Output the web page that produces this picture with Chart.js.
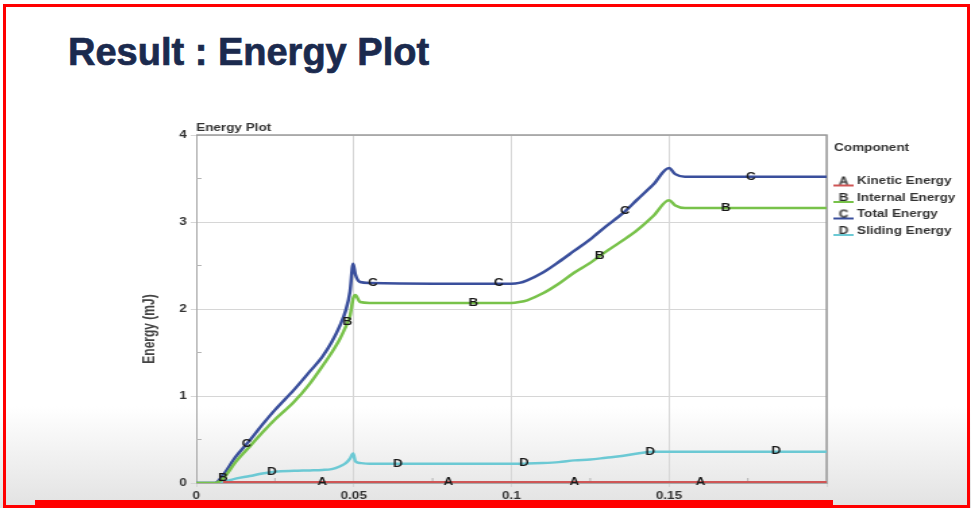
<!DOCTYPE html>
<html>
<head>
<meta charset="utf-8">
<script src="https://cdn.jsdelivr.net/npm/chart.js@4.4.0/dist/chart.umd.min.js"></script>
<style>
html, body { margin: 0; padding: 0; width: 971px; height: 508px; overflow: hidden; background: #fff; }
#slide { position: absolute; left: 0; top: 0; width: 971px; height: 508px;
  background: linear-gradient(to bottom, #fff 0%, #fff 80%, #e2e2e2 100%); }
#title { position: absolute; left: 68px; top: 33px; font: bold 38px "Liberation Sans", Arial, sans-serif;
  line-height: 38px; color: #1b2a4e; white-space: nowrap; -webkit-text-stroke: 0.7px #1b2a4e; }
#wrap { position: absolute; left: 130px; top: 112px; width: 616px; height: 392px;
  transform: scaleX(1.35); transform-origin: 0 0; }
#frame { position: absolute; left: 3px; top: 4px; width: 961px; height: 498px; border: 3px solid #f00; pointer-events: none; }
#bar { position: absolute; left: 35px; top: 500px; width: 798px; height: 5px; background: #f00; }
</style>
</head>
<body>
<div id="slide"></div>
<div id="title">Result : Energy Plot</div>
<div id="wrap"><canvas id="energyChart" width="616" height="392"></canvas></div>
<div id="bar"></div>
<div id="frame"></div>
<script>
// time (s) and energies (mJ)
const times    = [0, 0.006, 0.0085, 0.0125, 0.017, 0.021, 0.025, 0.031, 0.036, 0.04, 0.043, 0.0455, 0.0475, 0.0488, 0.0498, 0.0505, 0.052, 0.055, 0.1, 0.1025, 0.105, 0.11, 0.115, 0.12, 0.125, 0.13, 0.135, 0.14, 0.145, 0.15, 0.152, 0.155, 0.2];
const kinetic  = [null, null, 0.01, 0.01, 0.01, 0.01, 0.01, 0.01, 0.01, 0.01, 0.01, 0.01, 0.01, 0.01, 0.01, 0.01, 0.01, 0.01, 0.01, 0.01, 0.01, 0.01, 0.01, 0.01, 0.01, 0.01, 0.01, 0.01, 0.01, 0.01, 0.01, 0.01, 0.01];
const internal = [0, 0, 0.05, 0.24, 0.42, 0.58, 0.73, 0.93, 1.14, 1.34, 1.5, 1.65, 1.8, 1.92, 2.12, 2.16, 2.08, 2.07, 2.07, 2.08, 2.1, 2.18, 2.29, 2.42, 2.53, 2.66, 2.78, 2.91, 3.07, 3.25, 3.19, 3.16, 3.16];
const total    = [0, 0, 0.09, 0.3, 0.49, 0.67, 0.84, 1.07, 1.28, 1.45, 1.62, 1.8, 1.99, 2.2, 2.52, 2.4, 2.31, 2.3, 2.29, 2.3, 2.33, 2.42, 2.54, 2.67, 2.8, 2.95, 3.09, 3.26, 3.43, 3.62, 3.55, 3.52, 3.52];
const sliding  = [0, 0, 0.01, 0.05, 0.08, 0.11, 0.13, 0.14, 0.145, 0.15, 0.16, 0.19, 0.23, 0.28, 0.34, 0.25, 0.23, 0.22, 0.22, 0.22, 0.225, 0.23, 0.24, 0.26, 0.27, 0.29, 0.31, 0.34, 0.36, 0.36, 0.36, 0.36, 0.36];

const seriesNames   = ['Kinetic Energy', 'Internal Energy', 'Total Energy', 'Sliding Energy'];
const seriesLetters = ['A', 'B', 'C', 'D'];
const seriesColors  = ['#cf5656', '#78c24a', '#3a4f9c', '#6cc9d4'];
// x positions of the letter tags on each curve
const letterAt = [
    [0.04, 0.08, 0.12, 0.16],
    [0.0085, 0.048, 0.088, 0.128, 0.168],
    [0.016, 0.056, 0.096, 0.136, 0.176],
    [0.024, 0.064, 0.104, 0.144, 0.184]
];

const seriesValues = [kinetic, internal, total, sliding];
const FONT = '"Liberation Sans", Arial, sans-serif';

function legendIcon(letter, color) {
    const c = document.createElement('canvas');
    c.width = 15; c.height = 12;
    const g = c.getContext('2d');
    g.strokeStyle = color; g.lineWidth = 2;
    g.beginPath(); g.moveTo(0, 10); g.lineTo(15, 10); g.stroke();
    g.fillStyle = '#2a2a2a';
    g.font = 'bold 10px ' + FONT;
    g.textAlign = 'center';
    g.fillText(letter, 8, 9);
    return c;
}

function valueAt(vals, t) {
    for (let i = 0; i < times.length - 1; i++) {
        if (t >= times[i] && t <= times[i + 1]) {
            const a = vals[i], b = vals[i + 1];
            if (a == null || b == null) return null;
            return a + (b - a) * (t - times[i]) / (times[i + 1] - times[i]);
        }
    }
    return null;
}

const curveLetters = {
    id: 'curveLetters',
    afterDatasetsDraw(chart) {
        const { ctx, scales: { x, y } } = chart;
        ctx.save();
        ctx.font = 'bold 10px ' + FONT;
        ctx.fillStyle = '#1a1a1a';
        ctx.textAlign = 'center';
        ctx.textBaseline = 'middle';
        seriesValues.forEach((vals, i) => {
            letterAt[i].forEach(t => {
                const v = valueAt(vals, t);
                if (v == null) return;
                ctx.fillText(seriesLetters[i], x.getPixelForValue(t), y.getPixelForValue(v));
            });
        });
        ctx.restore();
    }
};

// box on top/right plus small inward minor ticks halfway between major ticks
const plotFrame = {
    id: 'plotFrame',
    beforeDatasetsDraw(chart) {
        const { ctx, chartArea: a, scales: { x, y } } = chart;
        ctx.save();
        ctx.strokeStyle = '#9a9a9a';
        ctx.lineWidth = 1.5;
        ctx.beginPath();
        ctx.moveTo(a.left, a.top); ctx.lineTo(a.right, a.top); ctx.lineTo(a.right, a.bottom);
        ctx.stroke();
        ctx.strokeStyle = '#b5b5b5';
        ctx.lineWidth = 1;
        ctx.beginPath();
        for (let i = 0; i < y.ticks.length - 1; i++) {
            const py = y.getPixelForValue((y.ticks[i].value + y.ticks[i + 1].value) / 2);
            ctx.moveTo(a.left, py); ctx.lineTo(a.left + 4, py);
        }
        for (let i = 0; i < x.ticks.length - 1; i++) {
            const px = x.getPixelForValue((x.ticks[i].value + x.ticks[i + 1].value) / 2);
            ctx.moveTo(px, a.bottom); ctx.lineTo(px, a.bottom - 5);
        }
        ctx.stroke();
        ctx.restore();
    }
};

const ctx = document.getElementById('energyChart').getContext('2d');
new Chart(ctx, {
    type: 'line',
    data: {
        datasets: seriesValues.map((vals, i) => ({
            label: seriesNames[i],
            data: times.map((t, k) => ({ x: t, y: vals[k] })),
            borderColor: seriesColors[i],
            backgroundColor: seriesColors[i],
            borderWidth: 2.5,
            pointRadius: 0,
            pointStyle: legendIcon(seriesLetters[i], seriesColors[i]),
            cubicInterpolationMode: 'monotone',
            fill: false
        }))
    },
    options: {
        responsive: false,
        animation: false,
        layout: { padding: 0 },
        scales: {
            x: {
                type: 'linear',
                min: 0, max: 0.2,
                ticks: {
                    stepSize: 0.05, maxRotation: 0, padding: 3, color: '#333',
                    font: { family: FONT, size: 10, weight: 'bold' },
                    callback: v => v > 0.19 ? '' : String(Math.round(v * 100) / 100)
                },
                grid: { color: '#d6d6d6', tickLength: 4 },
                border: { color: '#aaa' },
                afterFit: s => { s.height = 21; }
            },
            y: {
                min: 0, max: 4,
                ticks: {
                    stepSize: 1, padding: 3, color: '#333',
                    font: { family: FONT, size: 10, weight: 'bold' }
                },
                grid: { color: '#d6d6d6', tickLength: 4 },
                border: { color: '#aaa' },
                title: {
                    display: true, text: 'Energy (mJ)            ', color: '#444',
                    font: { family: FONT, size: 12, weight: 'bold' },
                    padding: { top: 7, bottom: 0 }
                },
                afterFit: s => { s.width = 49; }
            }
        },
        plugins: {
            title: {
                display: true, text: 'Energy Plot', align: 'start', fullSize: false, color: '#333',
                font: { family: FONT, size: 10, weight: 'bold' },
                padding: { top: 10, bottom: 1 }
            },
            legend: {
                position: 'right', align: 'start', maxWidth: 100,
                title: {
                    display: true, text: '  Component', position: 'start', color: '#333',
                    font: { family: FONT, size: 10, weight: 'bold' },
                    padding: { top: 31, bottom: 15 }
                },
                labels: {
                    usePointStyle: true, pointStyleWidth: 11, boxHeight: 10, padding: 6.5, color: '#333',
                    font: { family: FONT, size: 10, weight: 'bold' }
                }
            },
            tooltip: { enabled: false }
        }
    },
    plugins: [curveLetters, plotFrame]
});
</script>
</body>
</html>
